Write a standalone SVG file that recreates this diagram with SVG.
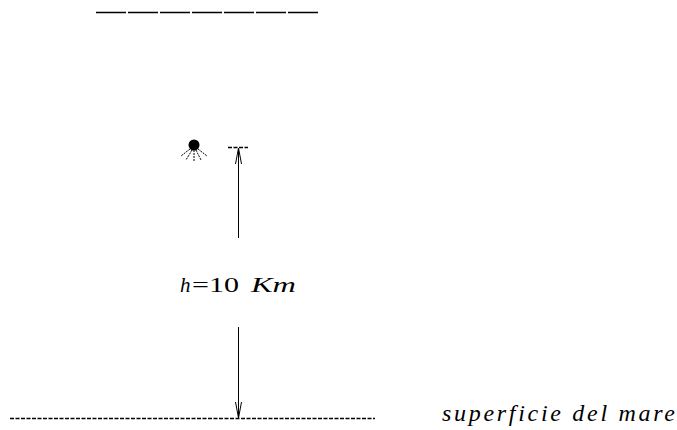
<svg xmlns="http://www.w3.org/2000/svg" width="677" height="430" viewBox="0 0 677 430">
<style>
.ln{stroke:#000;stroke-width:1;fill:none}
.dash{stroke:#000;stroke-width:1.3;fill:none;stroke-dasharray:4 1.5}
.t{font-family:'Liberation Serif','DejaVu Serif','Times New Roman',serif;font-size:21px;fill:#000}
.it{font-style:italic}
.big{font-size:24px}
</style>
<defs>
<marker id="ah" viewBox="0 0 16 10" refX="16" refY="5" markerWidth="16" markerHeight="10" markerUnits="userSpaceOnUse" orient="auto">
<path d="M0,2 L16,5 L0,8" fill="none" stroke="#000" stroke-width="1"/>
</marker>
</defs>
<g id="top-line">
<path d="M96,12.5 H320" stroke="#000" stroke-width="1.3" stroke-dasharray="30 2"/>
</g>
<g id="plane">
<circle cx="194" cy="145" r="5.5" fill="#000"/>
<path d="M190,149 L181,156 M192,150 L186,160 M194,150 L194,161 M196,150 L201,160 M198,149 L207,156" stroke="#000" stroke-width="1" stroke-dasharray="2 1"/>
</g>
<g id="altitude-mark">
<path d="M228,147.5 H248" class="dash" stroke-dasharray="3 1.5"/>
</g>
<g id="sea">
<path d="M10,418.5 H375" class="dash"/>
</g>
<g id="connectors">
<path d="M238.5,238 V148" class="ln" marker-end="url(#ah)"/>
<path d="M238.5,327 V418" class="ln" marker-end="url(#ah)"/>
</g>
<g id="label-h">
<text class="t it" x="180" y="292">h</text>
<text class="t" x="192" y="292" textLength="47" lengthAdjust="spacingAndGlyphs">=10</text>
<text class="t it" x="251" y="292" textLength="45" lengthAdjust="spacingAndGlyphs">Km</text>
</g>
<g id="label-sea">
<text class="t it big" x="442" y="421" textLength="233" lengthAdjust="spacing">superficie del mare</text>
</g>
</svg>
